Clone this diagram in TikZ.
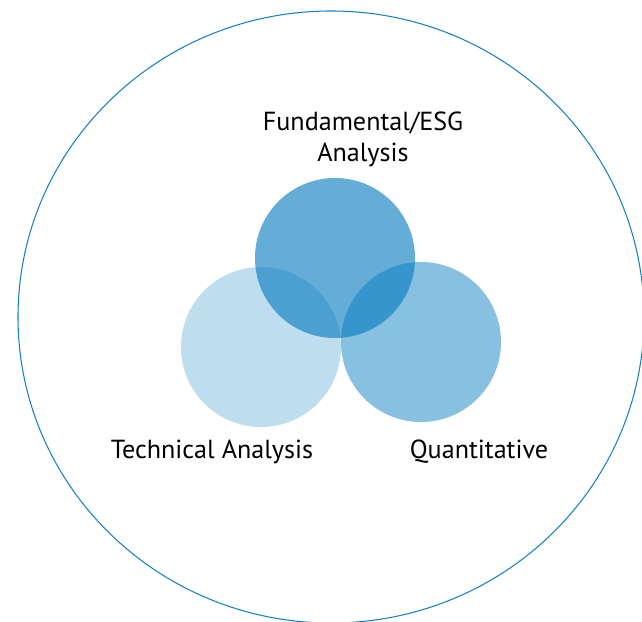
\documentclass[tikz,border=0pt]{standalone}
\usepackage{fontspec}
\setmainfont{PT Sans}
\definecolor{bleu}{RGB}{4,123,191}
\definecolor{trait}{RGB}{22,128,198}
\tikzstyle{bulle} = [circle, fill=bleu, draw=none, minimum size=4.8cm, inner sep=0pt]
\tikzstyle{etiquette} = [font=\fontsize{22.3}{27.3}\selectfont, text=black, inner sep=0pt, align=center]
\tikzstyle{contour} = [draw=trait, line width=0.9pt]

\begin{document}
\begin{tikzpicture}[x=0.03cm, y=-0.03cm]

        \useasboundingbox (0,0) rectangle (642,622);

        %% outer ring
        \draw[contour] (331,317) ellipse [x radius=313, y radius=306];

        %% circles
        \node (C1) [bulle, fill opacity=0.26] at (261,347) {};
        \node (C2) [bulle, fill opacity=0.48] at (421,342) {};
        \node (C3) [bulle, fill opacity=0.62] at (335,258) {};

        %% labels
        \node (L3) [etiquette, anchor=base] at (363,162) {Fundamental/ESG\\Analysis};
        \node (L1) [etiquette, anchor=base] at (212,458) {Technical Analysis};
        \node (L2) [etiquette, anchor=base] at (479,458) {Quantitative};

    \end{tikzpicture}
\end{document}
